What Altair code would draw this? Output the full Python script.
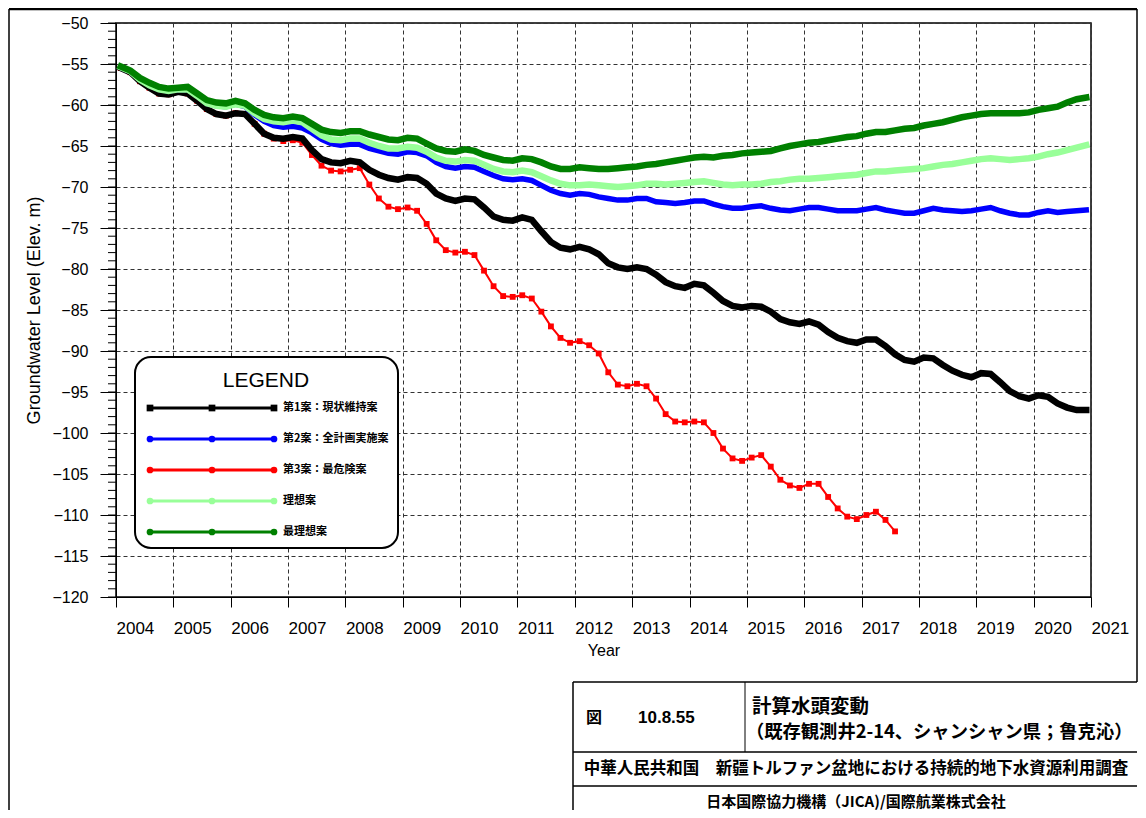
import altair as alt
import pandas as pd

# ---------------- data (every two months, mid-period) ----------------
START_YEAR = 2004
PER_YEAR = 6

black = [
    -55.5, -56.0, -57.1, -57.9, -58.6, -58.7,
    -58.4, -58.6, -59.5, -60.5, -61.1, -61.3,
    -61.0, -61.1, -62.3, -63.5, -64.0, -64.1,
    -63.9, -64.1, -65.5, -66.6, -67.0, -67.1,
    -66.8, -67.0, -67.9, -68.5, -68.9, -69.1,
    -68.8, -68.9, -69.6, -70.8, -71.4, -71.7,
    -71.4, -71.5, -72.5, -73.6, -74.0, -74.1,
    -73.7, -74.0, -75.4, -76.7, -77.4, -77.6,
    -77.3, -77.6, -78.2, -79.3, -79.8, -80.0,
    -79.8, -80.0, -80.7, -81.6, -82.1, -82.3,
    -81.8, -82.0, -82.9, -83.9, -84.5, -84.7,
    -84.5, -84.6, -85.2, -86.1, -86.5, -86.7,
    -86.4, -86.8, -87.7, -88.4, -88.8, -89.0,
    -88.6, -88.6, -89.4, -90.4, -91.1, -91.3,
    -90.8, -90.9, -91.7, -92.4, -92.9, -93.2,
    -92.7, -92.8, -93.8, -94.9, -95.5, -95.8,
    -95.4, -95.6, -96.4, -96.9, -97.2, -97.2,
]

blue = [
    -55.4, -55.9, -56.9, -57.6, -58.1, -58.3,
    -58.1, -58.1, -58.9, -59.8, -60.1, -60.2,
    -59.9, -60.2, -61.2, -62.0, -62.5, -62.7,
    -62.6, -62.8, -63.4, -64.2, -64.7, -64.9,
    -64.8, -64.8, -65.3, -65.6, -65.9, -66.0,
    -65.7, -65.8, -66.2, -67.0, -67.5, -67.7,
    -67.5, -67.6, -68.1, -68.6, -69.0, -69.1,
    -69.0, -69.2, -69.8, -70.4, -70.8, -71.0,
    -70.8, -70.9, -71.2, -71.4, -71.6, -71.6,
    -71.4, -71.4, -71.8, -71.9, -72.0, -71.9,
    -71.7, -71.7, -72.1, -72.4, -72.6, -72.6,
    -72.4, -72.3, -72.6, -72.8, -72.9, -72.7,
    -72.5, -72.5, -72.7, -72.9, -72.9, -72.9,
    -72.7, -72.5, -72.8, -73.0, -73.2, -73.2,
    -72.9, -72.6, -72.8, -72.9, -73.0, -72.9,
    -72.7, -72.5, -72.9, -73.2, -73.4, -73.4,
    -73.1, -72.9, -73.1, -73.0, -72.9, -72.8,
]

red = [
    -55.5, -56.0, -57.1, -57.9, -58.6, -58.7,
    -58.4, -58.6, -59.5, -60.5, -61.1, -61.3,
    -61.0, -61.1, -62.3, -63.5, -64.1, -64.4,
    -64.3, -64.6, -66.1, -67.4, -68.0, -68.1,
    -67.9, -67.7, -69.7, -71.4, -72.4, -72.7,
    -72.5, -72.9, -74.5, -76.5, -77.7, -78.0,
    -77.9, -78.3, -80.2, -82.1, -83.3, -83.4,
    -83.2, -83.6, -85.2, -87.0, -88.4, -89.0,
    -88.8, -89.3, -90.3, -92.6, -94.1, -94.3,
    -94.0, -94.3, -95.8, -97.7, -98.6, -98.7,
    -98.6, -98.7, -100.0, -101.9, -103.1, -103.4,
    -103.0, -102.7, -104.1, -105.7, -106.4, -106.7,
    -106.2, -106.2, -107.8, -109.2, -110.2, -110.5,
    -110.0, -109.6, -110.6, -112.0,
]

lightgreen = [
    -55.4, -55.9, -56.9, -57.6, -58.1, -58.3,
    -58.1, -58.1, -58.9, -59.8, -60.1, -60.2,
    -59.9, -60.1, -61.0, -61.7, -62.0, -62.1,
    -61.9, -62.1, -62.9, -63.7, -64.2, -64.3,
    -64.1, -64.1, -64.6, -65.0, -65.3, -65.3,
    -65.1, -65.2, -65.7, -66.4, -66.8, -66.9,
    -66.7, -66.8, -67.3, -67.8, -68.1, -68.2,
    -68.0, -68.2, -68.7, -69.2, -69.6, -69.8,
    -69.8, -69.7, -69.8, -69.9, -70.0, -69.9,
    -69.8, -69.6, -69.6, -69.7, -69.6, -69.5,
    -69.4, -69.3, -69.5, -69.7, -69.8, -69.7,
    -69.7, -69.6, -69.4, -69.3, -69.1, -69.0,
    -69.0, -68.9, -68.8, -68.7, -68.6, -68.5,
    -68.3, -68.1, -68.1, -68.0, -67.9, -67.8,
    -67.7, -67.5, -67.3, -67.2, -67.0, -66.8,
    -66.6, -66.5, -66.6, -66.7, -66.6, -66.5,
    -66.3, -66.0, -65.8, -65.5, -65.2, -64.9,
]

green = [
    -55.3, -55.8, -56.7, -57.3, -57.8, -58.0,
    -57.9, -57.8, -58.6, -59.4, -59.7, -59.8,
    -59.5, -59.8, -60.6, -61.2, -61.5, -61.6,
    -61.4, -61.6, -62.3, -63.0, -63.3, -63.4,
    -63.2, -63.2, -63.6, -63.9, -64.2, -64.3,
    -64.0, -64.1, -64.7, -65.3, -65.6, -65.7,
    -65.4, -65.6, -66.1, -66.4, -66.7, -66.8,
    -66.5, -66.6, -67.0, -67.5, -67.8, -67.8,
    -67.6, -67.7, -67.8, -67.8, -67.7, -67.6,
    -67.5, -67.3, -67.2, -67.0, -66.8, -66.6,
    -66.4, -66.3, -66.4, -66.2, -66.1, -65.9,
    -65.8, -65.7, -65.6, -65.3, -65.0, -64.8,
    -64.6, -64.5, -64.3, -64.1, -63.9, -63.8,
    -63.5, -63.3, -63.3, -63.1, -62.9, -62.8,
    -62.5, -62.3, -62.1, -61.8, -61.5, -61.3,
    -61.1, -61.0, -61.0, -61.0, -61.0, -60.9,
    -60.6, -60.4, -60.2, -59.7, -59.3, -59.1,
]

series_keys = ["black", "blue", "red", "lightgreen", "green"]
series_values = [black, blue, red, lightgreen, green]
series_names = ["第1案：現状維持案", "第2案：全計画実施案", "第3案：最危険案", "理想案", "最理想案"]
series_colors = ["#000000", "#0000FF", "#FF0000", "#99FF99", "#008000"]

year_ticks = list(range(2004, 2022))
level_ticks = list(range(-120, -49, 5))
level_minor = list(range(-120, -49))

rows = []
for key, vals in zip(series_keys, series_values):
    for k, v in enumerate(vals):
        rows.append({"s": key, "t": START_YEAR + (k + 0.5) / PER_YEAR, "v": v})
df = pd.DataFrame(rows)

# ---------------- layout ----------------
W, H = 975, 574
FONT = "Liberation Sans"
CJK = "Noto Sans CJK JP"
one = pd.DataFrame({"_": [0]})

x_axis = alt.Axis(
    values=year_ticks, format="d", labelAlign="left", labelFlush=False,
    labelOverlap=False, labelPadding=13, labelFontSize=17, tickSize=10, tickColor="black",
    domainColor="black", grid=True, gridDash=[4, 3], gridColor="#333333",
    title="Year", titlePadding=6,
)
y_axis = alt.Axis(
    values=level_ticks, tickSize=16, tickColor="black", labelPadding=12,
    domainColor="black", grid=True, gridDash=[4, 3], gridColor="#333333",
    title="Groundwater Level (Elev. m)", titlePadding=8, titleFontSize=18,
)
x_enc = alt.X("t:Q", scale=alt.Scale(domain=[2004, 2021], nice=False, zero=False), axis=x_axis)
y_enc = alt.Y("v:Q", scale=alt.Scale(domain=[-120, -50], nice=False, zero=False), axis=y_axis)
base = alt.Chart(df).encode(x=x_enc, y=y_enc)

layers = []
# red: thin line with square markers
red_base = base.transform_filter(alt.datum.s == "red")
layers.append(red_base.mark_line(color="#FF0000", strokeWidth=2))
layers.append(red_base.mark_square(color="#FF0000", size=34, opacity=1))
# others: thick bands
for key, col, sw in [("black", "#000000", 6.5), ("blue", "#0000FF", 5.5),
                     ("lightgreen", "#99FF99", 6.5), ("green", "#008000", 6.5)]:
    layers.append(base.transform_filter(alt.datum.s == key).mark_line(
        color=col, strokeWidth=sw, strokeJoin="miter", strokeCap="square"))

# minor ticks on the left axis (same y field / axis so the axis merges)
layers.append(
    alt.Chart(pd.DataFrame({"v": level_minor})).mark_rule(color="black", strokeWidth=1).encode(
        y=y_enc, x=alt.value(-8), x2=alt.value(0)
    )
)

# ---------------- legend box ----------------
layers.append(alt.Chart(one).mark_rect(
    fill="white", stroke="black", strokeWidth=2, cornerRadius=16).encode(
    x=alt.value(19), x2=alt.value(282), y=alt.value(334), y2=alt.value(525)))
layers.append(alt.Chart(one).mark_text(
    text="LEGEND", font=FONT, fontSize=21, color="black", baseline="middle", align="center").encode(
    x=alt.value(150), y=alt.value(358)))
for i, (name, col) in enumerate(zip(series_names, series_colors)):
    yy = 385 + i * 31
    layers.append(alt.Chart(one).mark_rule(color=col, strokeWidth=3).encode(
        x=alt.value(34), x2=alt.value(158), y=alt.value(yy)))
    shape = "square" if i == 0 else "circle"
    for xx in (34, 96, 158):
        layers.append(alt.Chart(one).mark_point(
            shape=shape, filled=True, color=col, size=45, opacity=1).encode(
            x=alt.value(xx), y=alt.value(yy)))
    layers.append(alt.Chart(one).mark_text(
        text=name, font=CJK, fontSize=11, fontWeight="bold", color="black",
        align="left", baseline="middle").encode(x=alt.value(167), y=alt.value(yy)))

# ---------------- outer frame ----------------
def rule(x1, y1, x2, y2, w=1.5):
    return alt.Chart(one).mark_rule(color="black", strokeWidth=w).encode(
        x=alt.value(x1), x2=alt.value(x2), y=alt.value(y1), y2=alt.value(y2))

layers += [
    rule(-107, -14, 1021, -14, 2.5),
    rule(-107, -14, -107, 787, 1.5),
    rule(1021, -14, 1021, 659, 1.5),
    # title block
    rule(457, 659, 1021, 659, 1.5),
    rule(457, 659, 457, 787, 1.5),
    rule(629, 659, 629, 729, 1),
    rule(457, 729, 1021, 729, 1.5),
    rule(457, 763, 1021, 763, 1.5),
]

def text(t, x, y, size, font=CJK, align="left", weight="bold"):
    return alt.Chart(one).mark_text(
        text=t, font=font, fontSize=size, fontWeight=weight, color="black",
        align=align, baseline="middle").encode(x=alt.value(x), y=alt.value(y))

layers += [
    text("図", 470, 695, 16),
    text("10.8.55", 522, 695, 17, font=FONT),
    text("計算水頭変動", 636, 684, 19.5),
    text("（既存観測井2-14、シャンシャン県；鲁克沁）", 630, 710, 18.3),
    text("中華人民共和国\u3000新疆トルファン盆地における持続的地下水資源利用調査", 740, 746, 16.5, align="center"),
    text("日本国際協力機構（JICA)/国際航業株式会社", 740, 779, 15, align="center"),
]

chart = alt.layer(*layers).properties(
    width=W, height=H,
    padding={"left": 108, "top": 15, "right": 47, "bottom": 213},
    autosize=alt.AutoSizeParams(type="none"),
).configure_view(
    stroke="black", strokeWidth=1.5
).configure_axis(
    labelFont=FONT, labelFontSize=16, labelColor="black",
    titleFont=FONT, titleFontSize=16, titleFontWeight="normal", titleColor="black",
)

chart.save("out.html", embed_options={"renderer": "svg", "actions": False})
